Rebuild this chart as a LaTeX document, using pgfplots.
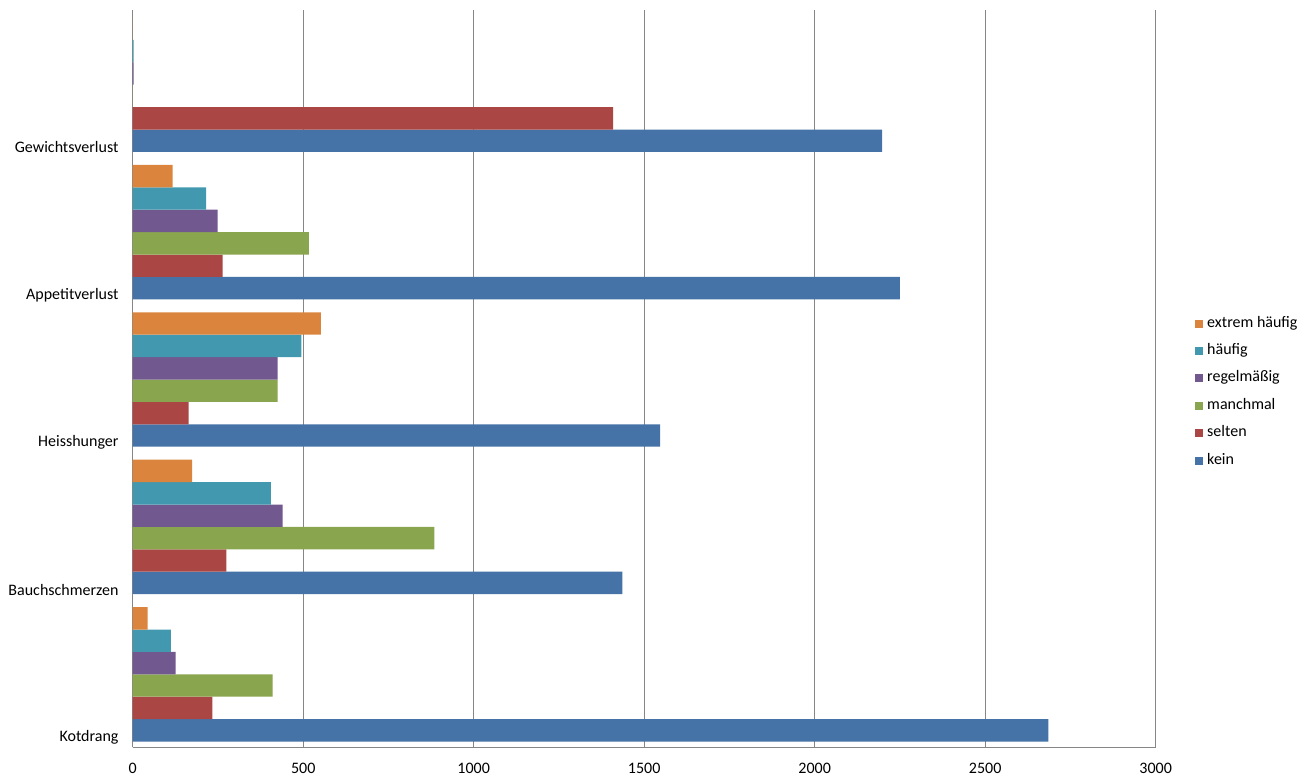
\documentclass[border=0pt]{standalone}
\usepackage{pgfplots}
\pgfplotsset{compat=1.18}
\usepackage{fontspec}
\setmainfont{Carlito}
\definecolor{cKein}{HTML}{4572A7}
\definecolor{cSelten}{HTML}{AA4643}
\definecolor{cManch}{HTML}{89A54E}
\definecolor{cRegel}{HTML}{71588F}
\definecolor{cHaeufig}{HTML}{4198AF}
\definecolor{cExtrem}{HTML}{DB843D}
\definecolor{gridgray}{HTML}{868686}
\begin{document}
\begin{tikzpicture}
\useasboundingbox (-132.7pt,-33.7pt) rectangle (1177.3pt,747.3pt);
\begin{axis}[
  at={(0,0)}, anchor=south west,
  scale only axis,
  width=1023pt, height=737pt,
  xmin=0, xmax=3000, ymin=0, ymax=5,
  xbar, bar shift=0pt, bar width=0.152,
  xtick={0,500,1000,1500,2000,2500,3000},
  ytick={0.07,1.07,2.07,3.07,4.07},
  yticklabels={Kotdrang,Bauchschmerzen,Heisshunger,Appetitverlust,Gewichtsverlust},
  major tick length=0pt,
  xmajorgrids,
  grid style={gridgray, line width=0.8pt},
  axis x line*=bottom, axis y line*=left,
  axis line style={gridgray, line width=0.8pt, -},
  /pgf/number format/assume math mode=true,
  /pgf/number format/set thousands separator={},
  xticklabel style={font=\fontsize{16}{16}\selectfont, inner sep=0pt, yshift=-16pt, anchor=north},
  yticklabel style={font=\fontsize{16}{16}\selectfont, inner sep=0pt, xshift=-14pt, anchor=east},
  scaled x ticks=false,
  legend reversed,
  legend cell align=left,
  legend style={draw=none, fill=none, at={(1.038,0.482)}, anchor=west,
    font=\fontsize{16}{16}\selectfont, inner sep=0pt, row sep=14.4pt, column sep=4.5pt,
    nodes={inner sep=0pt, text height=10pt, text depth=3pt}},
  legend image code/.code={\fill[#1] (0pt,-4pt) rectangle (8pt,4pt);},
  every axis plot/.append style={draw=none},
]
\addplot[fill=cKein] coordinates {(2685,0.115) (1436,1.115) (1547,2.115) (2250,3.115) (2198,4.115)};
\addlegendentry{kein}
\addplot[fill=cSelten] coordinates {(234,0.267) (275,1.267) (164,2.267) (264,3.267) (1409,4.267)};
\addlegendentry{selten}
\addplot[fill=cManch] coordinates {(410,0.419) (885,1.419) (425,2.419) (517,3.419) (0,4.419)};
\addlegendentry{manchmal}
\addplot[fill=cRegel] coordinates {(126,0.571) (440,1.571) (425,2.571) (249,3.571) (3,4.571)};
\addlegendentry{regelmäßig}
\addplot[fill=cHaeufig] coordinates {(112,0.723) (405,1.723) (495,2.723) (215,3.723) (3,4.723)};
\addlegendentry{häufig}
\addplot[fill=cExtrem] coordinates {(44,0.875) (174,1.875) (552,2.875) (117,3.875) (0,4.875)};
\addlegendentry{extrem häufig}
\end{axis}
\end{tikzpicture}
\end{document}
